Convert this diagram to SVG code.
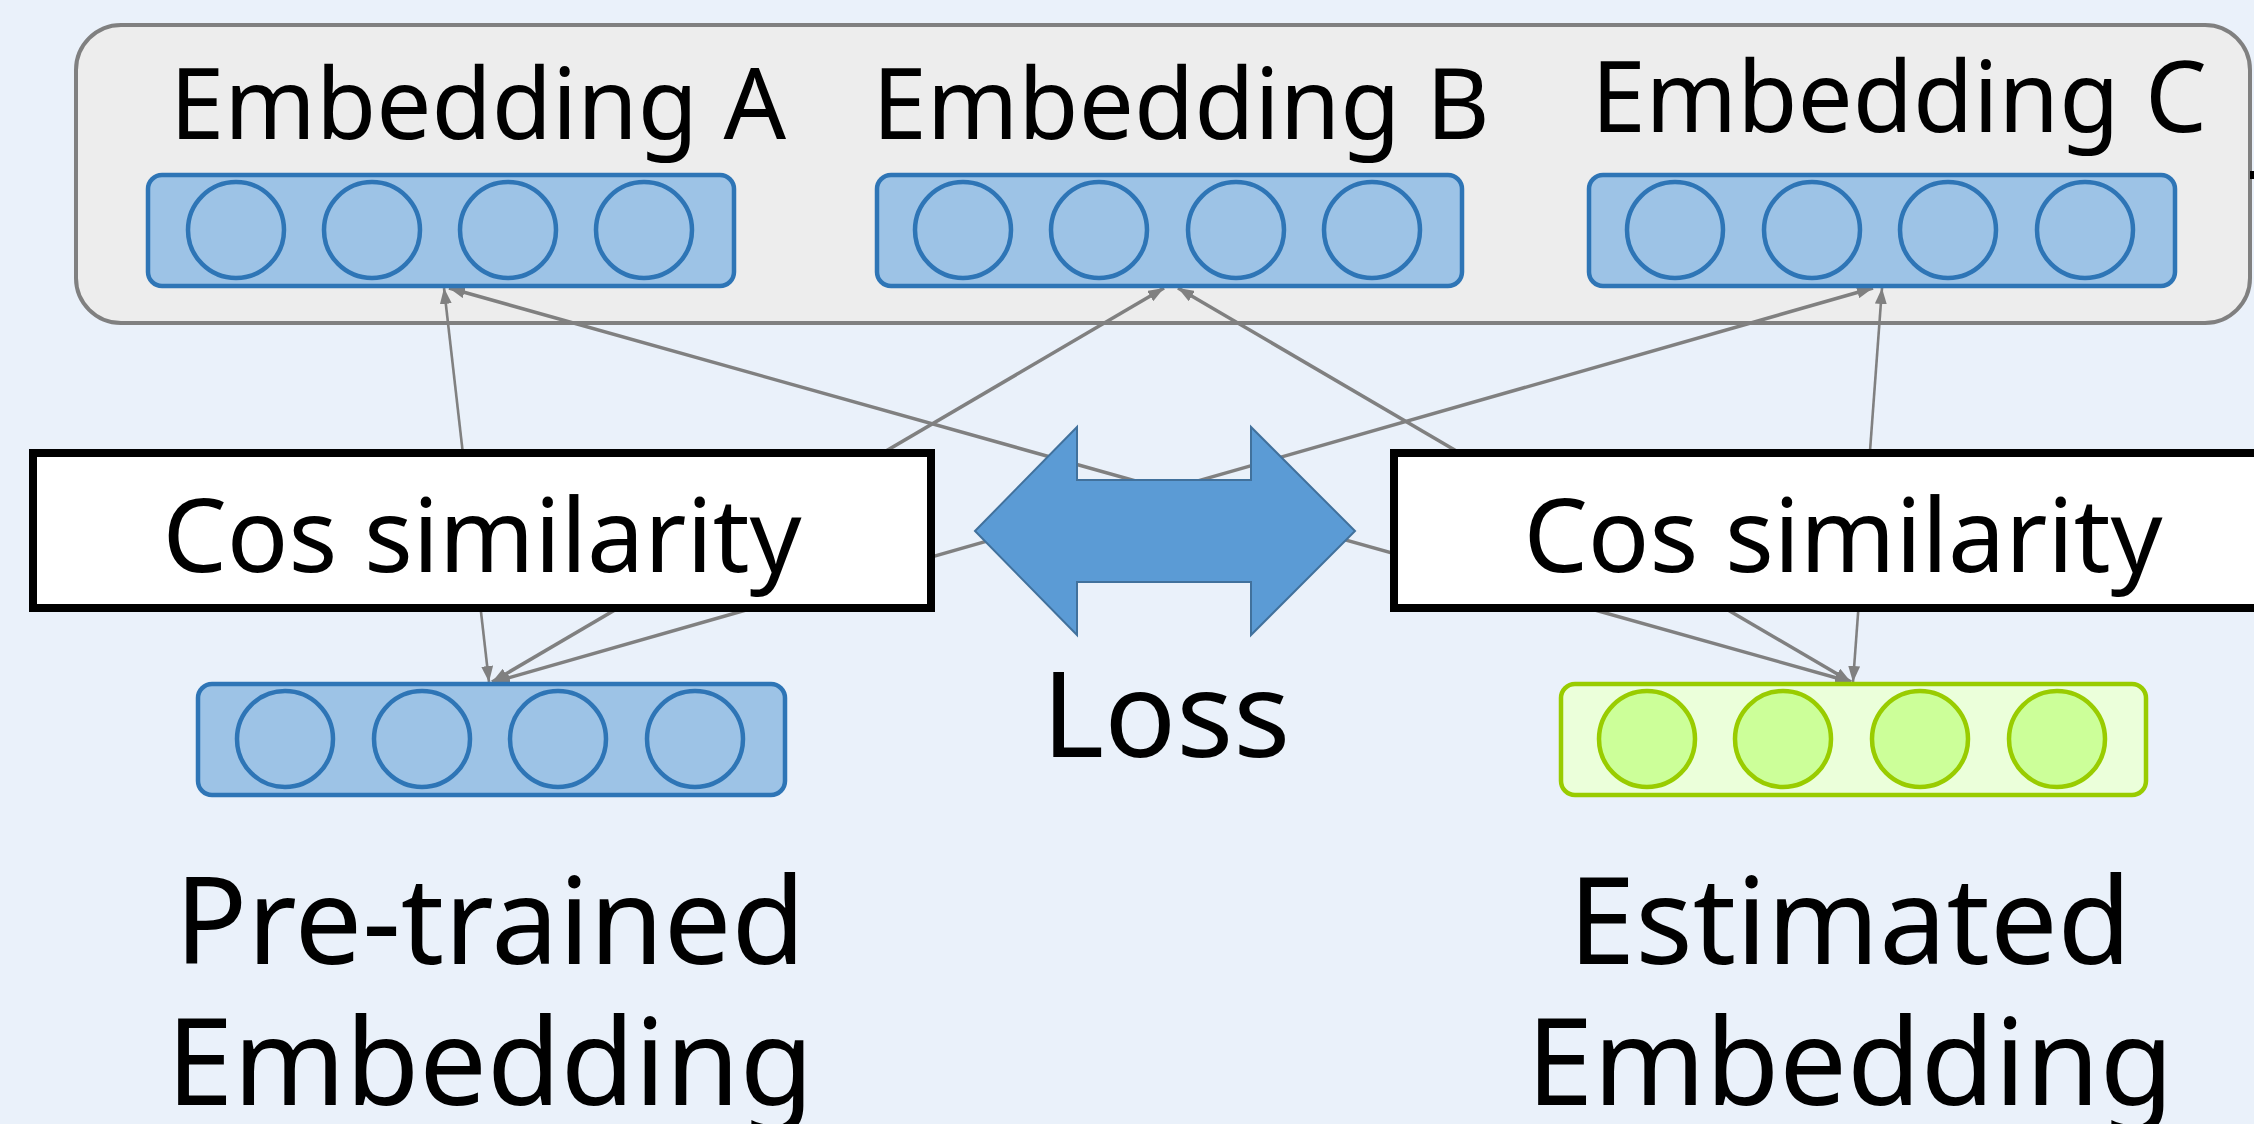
<svg xmlns="http://www.w3.org/2000/svg" width="2254" height="1124" viewBox="0 0 2254 1124">
<defs>
<style>
.lbl{font-family:"Noto Sans","Liberation Sans",sans-serif;fill:#000;text-anchor:middle}
.vec{fill:#9DC3E6;stroke:#2E75B6;stroke-width:4.5}
.cell{fill:#9DC3E6;stroke:#2E75B6;stroke-width:4.5}
.vecg{fill:#EBFFDA;stroke:#99CC00;stroke-width:4.5}
.cellg{fill:#CCFF99;stroke:#99CC00;stroke-width:4.5}
.cos{fill:#FFFFFF;stroke:#000;stroke-width:8}
.edge{fill:none;stroke:#808080;stroke-width:3.5;marker-start:url(#ah);marker-end:url(#ah)}
.edgev{stroke-width:2.6}
</style>
<marker id="ah" viewBox="0 0 16 12" refX="16" refY="6" markerWidth="16" markerHeight="12" markerUnits="userSpaceOnUse" orient="auto-start-reverse">
<path d="M0,0 L16,6 L0,12 z" fill="#808080"/>
</marker>
</defs>
<rect width="2254" height="1124" fill="#EAF1FA"/>

<g id="container">
<rect x="76" y="25" width="2174" height="298" rx="45" ry="45" fill="#EDEDED" stroke="#808080" stroke-width="4"/>
<rect x="2250" y="171" width="4" height="8" fill="#000"/>
</g>

<g id="connectors">
<line class="edge edgev" x1="489" y1="682" x2="444" y2="288"/>
<line class="edge" x1="492" y1="682" x2="1164" y2="288"/>
<line class="edge" x1="494" y1="682" x2="1873" y2="288"/>
<line class="edge" x1="1851" y1="682" x2="449" y2="288"/>
<line class="edge" x1="1851" y1="682" x2="1178" y2="288"/>
<line class="edge edgev" x1="1853" y1="682" x2="1882" y2="288"/>
</g>

<g id="embeddingA">
<text class="lbl" x="478" y="139" font-size="98">Embedding A</text>
<rect class="vec" x="148" y="175" width="586" height="111" rx="14"/>
<circle class="cell" cx="236" cy="230" r="48"/>
<circle class="cell" cx="372" cy="230" r="48"/>
<circle class="cell" cx="508" cy="230" r="48"/>
<circle class="cell" cx="644" cy="230" r="48"/>
</g>

<g id="embeddingB">
<text class="lbl" x="1181" y="139" font-size="98">Embedding B</text>
<rect class="vec" x="877" y="175" width="585" height="111" rx="14"/>
<circle class="cell" cx="963" cy="230" r="48"/>
<circle class="cell" cx="1099" cy="230" r="48"/>
<circle class="cell" cx="1236" cy="230" r="48"/>
<circle class="cell" cx="1372" cy="230" r="48"/>
</g>

<g id="embeddingC">
<text class="lbl" x="1899" y="132" font-size="98">Embedding C</text>
<rect class="vec" x="1589" y="175" width="586" height="111" rx="14"/>
<circle class="cell" cx="1675" cy="230" r="48"/>
<circle class="cell" cx="1812" cy="230" r="48"/>
<circle class="cell" cx="1948" cy="230" r="48"/>
<circle class="cell" cx="2085" cy="230" r="48"/>
</g>

<g id="cosLeft">
<rect class="cos" x="33" y="453" width="898" height="155"/>
<text class="lbl" x="482" y="572" font-size="102">Cos similarity</text>
</g>

<g id="cosRight">
<rect class="cos" x="1394" y="453" width="898" height="155"/>
<text class="lbl" x="1843" y="572" font-size="102">Cos similarity</text>
</g>

<g id="loss">
<polygon points="975,531 1077,427 1077,480 1251,480 1251,427 1355,531 1251,635 1251,582 1077,582 1077,635" fill="#5B9BD5" stroke="#41719C" stroke-width="2"/>
<text class="lbl" x="1166" y="757" font-size="119">Loss</text>
</g>

<g id="pretrained">
<rect class="vec" x="198" y="684" width="587" height="111" rx="14"/>
<circle class="cell" cx="285" cy="739" r="48"/>
<circle class="cell" cx="422" cy="739" r="48"/>
<circle class="cell" cx="558" cy="739" r="48"/>
<circle class="cell" cx="695" cy="739" r="48"/>
<text class="lbl" x="490" y="964" font-size="120">Pre-trained</text>
<text class="lbl" x="490" y="1105" font-size="120">Embedding</text>
</g>

<g id="estimated">
<rect class="vecg" x="1561" y="684" width="585" height="111" rx="14"/>
<circle class="cellg" cx="1647" cy="739" r="48"/>
<circle class="cellg" cx="1783" cy="739" r="48"/>
<circle class="cellg" cx="1920" cy="739" r="48"/>
<circle class="cellg" cx="2057" cy="739" r="48"/>
<text class="lbl" x="1850" y="964" font-size="120">Estimated</text>
<text class="lbl" x="1850" y="1105" font-size="120">Embedding</text>
</g>
</svg>
